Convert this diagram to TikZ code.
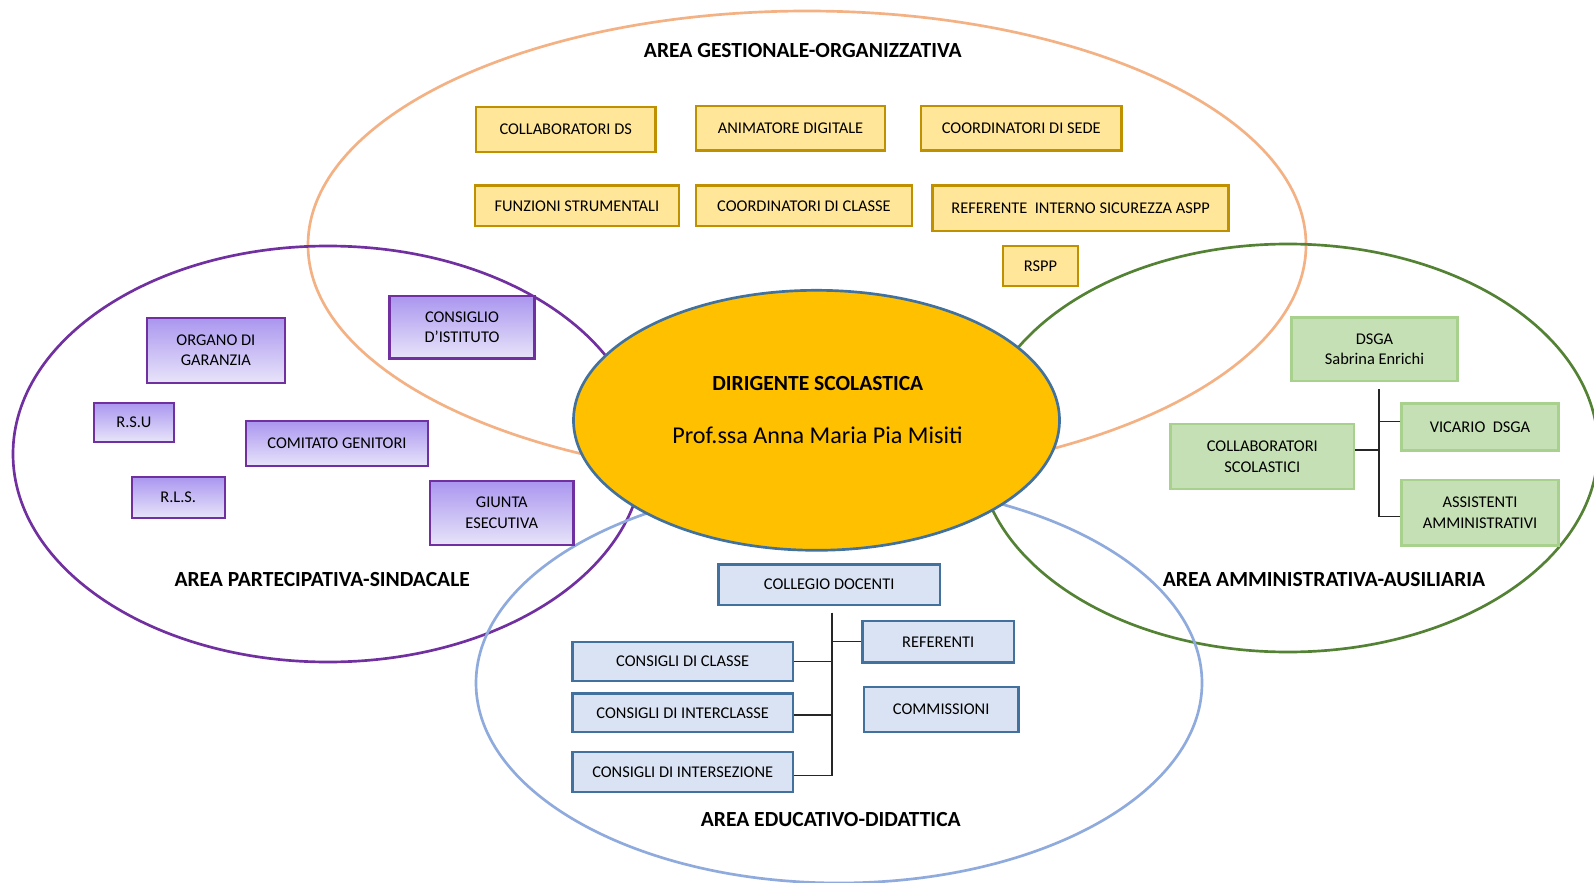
\documentclass[tikz,border=0pt]{standalone}
\usepackage{fontspec}
\setmainfont{Carlito}
\usepackage{tikz}
\usetikzlibrary{shapes.geometric}

\definecolor{orangeline}{HTML}{F4B183}
\definecolor{purpleline}{HTML}{7030A0}
\definecolor{greenline}{HTML}{548235}
\definecolor{blueline}{HTML}{8FAADC}
\definecolor{dsfill}{HTML}{FFC000}
\definecolor{dsline}{HTML}{41719C}
\definecolor{yfill}{HTML}{FFE699}
\definecolor{ydraw}{HTML}{BF9000}
\definecolor{ptop}{HTML}{AA96EF}
\definecolor{pbot}{HTML}{E8E4FA}
\definecolor{gfill}{HTML}{C5E0B4}
\definecolor{gdraw}{HTML}{A9D18E}
\definecolor{bfill}{HTML}{DAE3F3}
\definecolor{bdraw}{HTML}{41719C}

\tikzset{dim/.style 2 args={minimum width=#1*0.3mm, minimum height=#2*0.3mm}}

\begin{document}
\begin{tikzpicture}[x=0.3mm, y=-0.3mm,
	every node/.style={font=\fontsize{14}{17.6}\selectfont, align=center, inner sep=0pt},
	area/.style={line width=0.8mm},
	ybox/.style={draw=ydraw, fill=yfill, line width=0.7mm},
	pbox/.style={draw=purpleline, top color=ptop, bottom color=pbot, line width=0.7mm},
	gbox/.style={draw=gdraw, fill=gfill, line width=0.8mm},
	bbox/.style={draw=bdraw, fill=bfill, line width=0.7mm},
	link/.style={draw=black!85, line width=0.4mm},
	title/.style={font=\bfseries\fontsize{18.4}{22}\selectfont, anchor=base}]
	\useasboundingbox (0,0) rectangle (1594,883);
	\fill[white] (0,0) rectangle (1594,883);
	\clip (0,0) rectangle (1594,883);
	
	\draw[area, orangeline] (807,245) ellipse [x radius=499, y radius=234];
	\draw[area, purpleline] (328,454) ellipse [x radius=315, y radius=208];
	\draw[area, greenline] (1288,448) ellipse [x radius=310, y radius=204];
	\draw[area, blueline] (839,683) ellipse [x radius=363, y radius=200];
	
	\node[ellipse, draw=dsline, fill=dsfill, line width=0.8mm, dim={486}{260}] (ds) at (816.5,420.3) {};
	\node[title] (dstitle) at (817.8,390) {DIRIGENTE SCOLASTICA};
	\node[font=\fontsize{20.6}{24}\selectfont, anchor=base] (dsname) at (817.5,443.3) {Prof.ssa Anna Maria Pia Misiti};
	
	\node[title] (gest) at (802.8,57.3) {AREA GESTIONALE-ORGANIZZATIVA};
	\node[title] (part) at (322.2,586) {AREA PARTECIPATIVA-SINDACALE};
	\node[title] (amm) at (1324,586) {AREA AMMINISTRATIVA-AUSILIARIA};
	\node[title] (edu) at (830.8,826.7) {AREA EDUCATIVO-DIDATTICA};
	
	\node[ybox, dim={179.6}{44.4}] (collabds) at (565.7,129.5) {COLLABORATORI DS};
	\node[ybox, dim={189.5}{44.7}] (animatore) at (790.5,128.3) {ANIMATORE DIGITALE};
	\node[ybox, dim={200.5}{44.7}] (coordsede) at (1021.3,128.3) {COORDINATORI DI SEDE};
	\node[ybox, dim={204}{40.3}] (funzioni) at (576.9,205.8) {FUNZIONI STRUMENTALI};
	\node[ybox, dim={216.4}{40.3}] (coordclasse) at (804,205.8) {COORDINATORI DI CLASSE};
	\node[ybox, dim={296}{45.3}] (referente) at (1080.6,208.3) {REFERENTE~ INTERNO SICUREZZA ASPP};
	\node[ybox, dim={74.7}{40}] (rspp) at (1040.5,266) {RSPP};
	
	\node[pbox, dim={137.6}{65}] (organo) at (215.9,350.2) {ORGANO DI\\GARANZIA};
	\node[pbox, dim={145}{62.3}] (consiglio) at (462,327.2) {CONSIGLIO\\D’ISTITUTO};
	\node[pbox, dim={80.3}{39}] (rsu) at (133.9,422.2) {R.S.U};
	\node[pbox, dim={181.5}{45}] (comitato) at (337,443.5) {COMITATO GENITORI};
	\node[pbox, dim={93}{41}] (rls) at (178.2,497.2) {R.L.S.};
	\node[pbox, dim={143.2}{64}] (giunta) at (501.8,513) {GIUNTA\\ESECUTIVA};
	
	\node[gbox, dim={165.6}{63.3}] (dsga) at (1374.5,349.3) {DSGA\\Sabrina Enrichi};
	\node[gbox, dim={156.6}{47.4}] (vicario) at (1480,427) {VICARIO~ DSGA};
	\node[gbox, dim={183.3}{65}] (collabsc) at (1262.3,456.5) {COLLABORATORI\\SCOLASTICI};
	\node[gbox, dim={156.6}{65.7}] (assist) at (1480,512.8) {ASSISTENTI\\AMMINISTRATIVI};
	\coordinate (admtop) at (1379,389);
	\draw[link] (admtop) |- ([yshift=-3.4pt]assist.west);
	\draw[link] ([yshift=4.5pt]vicario.west) -- ([yshift=4.5pt]vicario.west -| admtop);
	\draw[link] ([yshift=5.5pt]collabsc.east) -- ([yshift=5.5pt]collabsc.east -| admtop);
	
	\node[bbox, dim={221.7}{40.7}] (collegio) at (829.2,584.7) {COLLEGIO DOCENTI};
	\node[bbox, dim={151.7}{41.7}] (referenti) at (938.2,641.8) {REFERENTI};
	\node[bbox, dim={220.7}{38.4}] (consclasse) at (682.7,661.5) {CONSIGLI DI CLASSE};
	\node[bbox, dim={220.7}{38.3}] (consinter) at (682.7,712.8) {CONSIGLI DI INTERCLASSE};
	\node[bbox, dim={220.7}{39.4}] (consintersez) at (682.7,772) {CONSIGLI DI INTERSEZIONE};
	\node[bbox, dim={154.3}{45}] (commissioni) at (941.2,709.2) {COMMISSIONI};
	\coordinate (edutop) at (832,612.7);
	\draw[link] (edutop) |- ([yshift=-3.1pt]consintersez.east);
	\draw[link] (referenti.west) -- (referenti.west -| edutop);
	\draw[link] (consclasse.east) -- (consclasse.east -| edutop);
	\draw[link] ([yshift=-1.9pt]consinter.east) -- ([yshift=-1.9pt]consinter.east -| edutop);
\end{tikzpicture}
\end{document}
